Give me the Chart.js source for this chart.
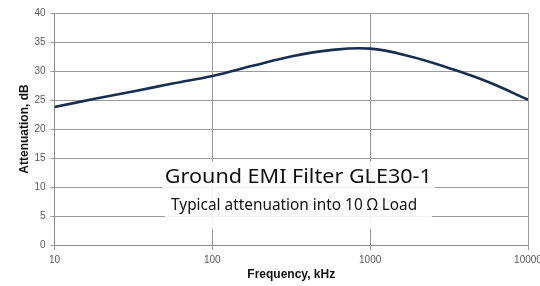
<!DOCTYPE html>
<html>
<head>
<meta charset="utf-8">
<script src="https://cdn.jsdelivr.net/npm/chart.js@4"></script>
<style>
  body { margin: 0; background: #fff; }
  canvas { display: block; }
</style>
</head>
<body>
<canvas id="grafica" width="540" height="286"></canvas>
<script>
// values (kHz -> dB)
const freqs = [10, 18, 32, 56, 100, 180, 320, 560, 1000, 1800, 3200, 5600, 10000];
const atten = [23.8, 25.2, 26.5, 27.85, 29.15, 30.9, 32.55, 33.6, 33.85, 32.5, 30.45, 28.1, 25.05];
const xTicks = [10, 100, 1000, 10000];
const yTicks = [0, 5, 10, 15, 20, 25, 30, 35, 40];
const titleText = "Ground EMI Filter GLE30-1";
const subText = "Typical attenuation into 10 Ω Load";

const tickFont = { family: "Liberation Sans", size: 10 };
const axisFont = { family: "Liberation Sans", size: 12, weight: "bold" };

// draws the two white labels inside the plot
const etiquetas = {
  id: "etiquetas",
  afterDatasetsDraw(chart) {
    const { ctx, chartArea: a } = chart;
    const w = a.right - a.left, h = a.bottom - a.top;
    const px = f => a.left + w * f, py = f => a.top + h * f;
    ctx.save();
    ctx.fillStyle = "rgba(255,255,255,0.88)";
    ctx.fillRect(px(0.227), py(0.64), px(0.804) - px(0.227), py(0.803) - py(0.64));
    ctx.fillRect(px(0.233), py(0.803), px(0.797) - px(0.233), py(0.93) - py(0.803));
    ctx.fillStyle = "#111";
    ctx.textAlign = "left";
    ctx.textBaseline = "alphabetic";
    const line = (txt, size, cx, base, width) => {
      ctx.font = size + "px 'Noto Sans'";
      const m = ctx.measureText(txt).width;
      const sx = width / m;
      ctx.save();
      ctx.translate(cx - width / 2, base);
      ctx.scale(sx, 1);
      ctx.fillText(txt, 0, 0);
      ctx.restore();
    };
    line(titleText, 19, px(0.515), py(0.733), 267);
    line(subText, 15.5, px(0.506), py(0.85), 246);
    ctx.restore();
  }
};

const ctx = document.getElementById("grafica");
const myChart = new Chart(ctx, {
  type: "line",
  data: {
    datasets: [
      {
        label: "Attenuation",
        data: freqs.map((f, i) => ({ x: f, y: atten[i] })),
        borderColor: "#172f4f",
        borderWidth: 2.6,
        pointRadius: 0,
        fill: false,
        tension: 0.4,
      },
    ],
  },
  options: {
    responsive: false,
    animation: false,
    layout: { padding: { top: 13, right: 12, left: 0, bottom: 0 } },
    plugins: {
      legend: { display: false },
      tooltip: { enabled: false },
    },
    scales: {
      x: {
        type: "logarithmic",
        min: 10,
        max: 10000,
        afterBuildTicks: s => { s.ticks = xTicks.map(v => ({ value: v })); },
        afterFit: s => { s.height = 41; s.paddingLeft = 0; s.paddingRight = 0; },
        ticks: {
          autoSkip: false,
          maxRotation: 0,
          padding: 4,
          font: tickFont,
          color: "#595959",
          callback: v => String(v),
        },
        grid: { color: "#9a9a9a", tickLength: 5 },
        border: { color: "#8c8c8c" },
        title: {
          display: true,
          text: "Frequency, kHz",
          font: axisFont,
          color: "#111",
          padding: { top: 0, bottom: 4 },
        },
      },
      y: {
        min: 0,
        max: 40,
        afterBuildTicks: s => { s.ticks = yTicks.map(v => ({ value: v })); },
        afterFit: s => { s.width = 54.5; },
        ticks: {
          padding: 5,
          font: tickFont,
          color: "#595959",
        },
        grid: { color: "#9a9a9a", tickLength: 4 },
        border: { color: "#8c8c8c" },
        title: {
          display: true,
          text: "Attenuation, dB",
          font: axisFont,
          color: "#111",
          padding: { top: 17, bottom: 0 },
        },
      },
    },
  },
  plugins: [etiquetas],
});
</script>
</body>
</html>
